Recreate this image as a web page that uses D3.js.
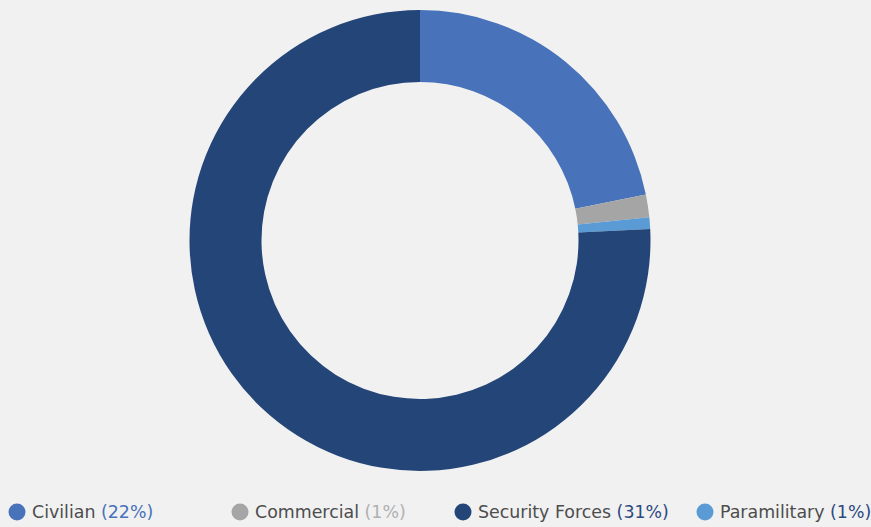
<!DOCTYPE html>
<html>
<head>
<meta charset="utf-8">
<script src="https://cdn.jsdelivr.net/npm/d3@7"></script>
<style>
  html, body { margin: 0; padding: 0; background: #f1f1f2; }
  svg { display: block; }
</style>
</head>
<body>
<svg id="chart" width="871" height="527"></svg>
<script>
// Ring order (clockwise from 12 o'clock)
const ringCategories = ["Civilian", "Commercial", "Paramilitary", "Security Forces"];
const ringValues = [21.8, 1.6, 0.8, 75.8];

// Legend order and the shares it reports
const legendCategories = ["Civilian", "Commercial", "Security Forces", "Paramilitary"];
const legendShares = ["22%", "1%", "31%", "1%"];

const colors = {
  "Civilian": "#4872b9",
  "Commercial": "#a5a5a5",
  "Security Forces": "#244577",
  "Paramilitary": "#5b9bd5"
};
// Colour of the share text next to each legend entry
const shareColors = {
  "Civilian": "#4872b9",
  "Commercial": "#b0b0b0",
  "Security Forces": "#2c4a80",
  "Paramilitary": "#2c4a80"
};

const width = 871, height = 527;
const cx = 420, cy = 240.5;
const outerR = 230.5, innerR = 158.5;

const svg = d3.select("#chart");
svg.append("rect").attr("width", width).attr("height", height).attr("fill", "#f1f1f2");

const pie = d3.pie().sort(null).value(d => d.value);
const arc = d3.arc().innerRadius(innerR).outerRadius(outerR);

const data = ringCategories.map((c, i) => ({ name: c, value: ringValues[i] }));

svg.append("g")
  .attr("transform", `translate(${cx},${cy})`)
  .selectAll("path")
  .data(pie(data))
  .join("path")
  .attr("d", arc)
  .attr("fill", d => colors[d.data.name]);

// Legend along the bottom
const legendX = [17, 240, 463, 705];
const legendY = 512;
const legend = svg.append("g").attr("font-family", "'DejaVu Sans', sans-serif").attr("font-size", 17.4);

legendCategories.forEach((c, i) => {
  const g = legend.append("g").attr("transform", `translate(${legendX[i]},${legendY})`);
  g.append("circle").attr("r", 8.5).attr("fill", colors[c]);
  const t = g.append("text").attr("x", 15).attr("y", 0).attr("dy", "0.36em");
  t.append("tspan").attr("fill", "#4d4d4d").text(c + " ");
  t.append("tspan").attr("fill", shareColors[c]).text("(" + legendShares[i] + ")");
});
</script>
</body>
</html>
